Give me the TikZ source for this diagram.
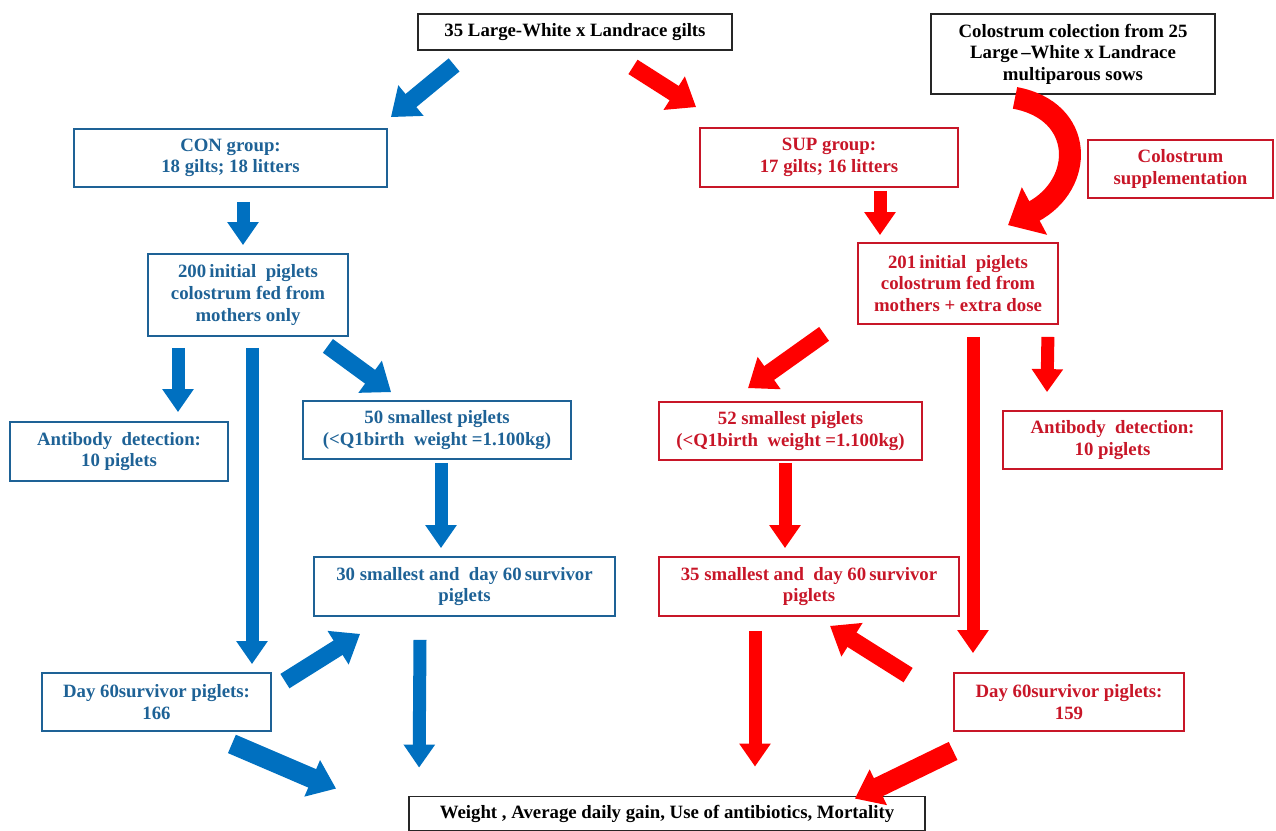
\documentclass[tikz,border=0pt]{standalone}
\usepackage{fontspec}
\setmainfont{Liberation Serif}
\usepackage{xcolor}
\usetikzlibrary{arrows.meta,calc}

\definecolor{arrblue}{RGB}{0,112,192}
\definecolor{boxblue}{RGB}{30,98,150}
\definecolor{arrred}{RGB}{255,0,0}
\definecolor{boxred}{RGB}{200,22,40}

\begin{document}
\begin{tikzpicture}[x=0.5pt, y=-0.5pt, font=\fontsize{9.4}{10.8}\selectfont\bfseries,
        box/.style={draw, line width=0.9pt, align=center, inner sep=0pt},
        kbox/.style={box, draw=black!85, text=black},
        bbox/.style={box, draw=boxblue, text=boxblue},
        rbox/.style={box, draw=boxred, text=boxred},
        vfat/.style={line width=6.5pt, -{Triangle[length=11.5pt,width=15pt]}},
        dfat/.style={line width=8.5pt, -{Triangle[length=13pt,width=19pt]}}]
        \useasboundingbox (0,0) rectangle (1276,831);
        % top row
        \node[kbox, minimum width=157pt, minimum height=18pt] (gilts) at (575,32) {35 Large-White x Landrace gilts};
        \node[kbox, minimum width=142pt, minimum height=40pt] (sows) at (1073,54) {Colostrum colection from 25\\Large\,--White x Landrace\\multiparous sows};
        \node[rbox, minimum width=92.5pt, minimum height=29pt] (suppl) at (1180.5,169) {Colostrum\\supplementation};
        % groups
        \node[bbox, minimum width=156.5pt, minimum height=29pt] (con) at (230.5,158) {CON group:\\18 gilts; 18 litters};
        \node[rbox, minimum width=129pt, minimum height=29.5pt] (sup) at (829,157.5) {SUP group:\\17 gilts; 16 litters};
        \node[bbox, minimum width=100pt, minimum height=41pt] (initc) at (248,295) {200\,initial~ piglets\\colostrum fed from\\mothers only};
        \node[rbox, minimum width=100pt, minimum height=40.5pt] (inits) at (958,283.5) {201\,initial~ piglets\\colostrum fed from\\mothers + extra dose};
        % piglet subsets
        \node[bbox, minimum width=109pt, minimum height=29.5pt] (abc) at (119,451.5) {Antibody~ detection:\\10 piglets};
        \node[bbox, minimum width=134pt, minimum height=29pt] (smallc) at (437,430) {50 smallest piglets\\(<Q1birth~ weight =1.100kg)};
        \node[rbox, minimum width=131.5pt, minimum height=29pt] (smalls) at (790.5,431) {52 smallest piglets\\(<Q1birth~ weight =1.100kg)};
        \node[rbox, minimum width=109.5pt, minimum height=29pt] (abs) at (1112.5,440) {Antibody~ detection:\\10 piglets};
        \node[bbox, minimum width=150.5pt, minimum height=29.5pt] (survc) at (464.5,586.5) {30 smallest and~ day 60\,survivor\\piglets};
        \node[rbox, minimum width=150pt, minimum height=29.5pt] (survs) at (809,586.5) {35 smallest and~ day 60\,survivor\\piglets};
        \node[bbox, minimum width=114.5pt, minimum height=29pt] (dayc) at (156.5,702) {Day 60survivor piglets:\\166};
        \node[rbox, minimum width=115pt, minimum height=29pt] (days) at (1069,702) {Day 60survivor piglets:\\159};
        \node[kbox, minimum width=258pt, minimum height=17pt] (weight) at (667,813.5) {Weight , Average daily gain, Use of antibiotics, Mortality};

        % CON side
        \begin{scope}[arrblue]
        \draw[dfat] ([shift={(37,14)}]gilts.south west) -- ([shift={(3,-11)}]con.north east);
        \draw[vfat] ([shift={(12.5,14)}]con.south) -- ([shift={(-5,-8)}]initc.north);
        \draw[vfat] ([shift={(-70,11)}]initc.south) -- ([shift={(59,-9)}]abc.north);
        \draw[vfat] ([shift={(4,11)}]initc.south) -- ([shift={(95.5,-8)}]dayc.north);
        \draw[dfat] ([shift={(-21,9)}]initc.south east) -- ([shift={(89,-8)}]smallc.north west);
        \draw[vfat] ([shift={(4,3)}]smallc.south) -- ([shift={(-23.5,-8)}]survc.north);
        \draw[dfat] ([shift={(13,9)}]dayc.north east) -- ([shift={(47,17)}]survc.south west);
        \draw[vfat] ([shift={(-44.5,23)}]survc.south) -- ([shift={(11,-28)}]weight.north west);
        \draw[dfat, line width=10pt] ([shift={(-40,12)}]dayc.south east) -- ([shift={(-72,-7)}]weight.north west);
        \end{scope}
        % SUP side
        \begin{scope}[arrred]
        \draw[dfat] ([shift={(58,16)}]gilts.south) -- ([shift={(-3,-20)}]sup.north west);
        \draw[vfat] ([shift={(51,3)}]sup.south) -- ([shift={(-78,-7)}]inits.north);
        \draw[line width=11pt, -{Triangle[length=15pt,width=26pt]}] ([shift={(-58,3)}]sows.south)
              .. controls +(70,13) and +(77,-41) .. ([shift={(50,-17)}]inits.north);
        \draw[dfat] ([shift={(-33,9)}]inits.south west) -- ([shift={(-42.5,-13)}]smalls.north);
        \draw[vfat] ([shift={(15,12)}]inits.south) -- ([shift={(-96,-19)}]days.north);
        \draw[vfat] ([shift={(-11,12)}]inits.south east) -- ([shift={(-65.5,-18)}]abs.north);
        \draw[vfat] ([shift={(-5.5,2)}]smalls.south) -- ([shift={(-24,-8)}]survs.north);
        \draw[dfat] ([shift={(-45,3)}]days.north west) -- ([shift={(21,9)}]survs.south);
        \draw[vfat] ([shift={(-54,14)}]survs.south) -- ([shift={(88,-29)}]weight.north);
        \draw[dfat, line width=10pt] ([shift={(0,19)}]days.south west) -- ([shift={(-71,3)}]weight.north east);
        \end{scope}
\end{tikzpicture}
\end{document}
